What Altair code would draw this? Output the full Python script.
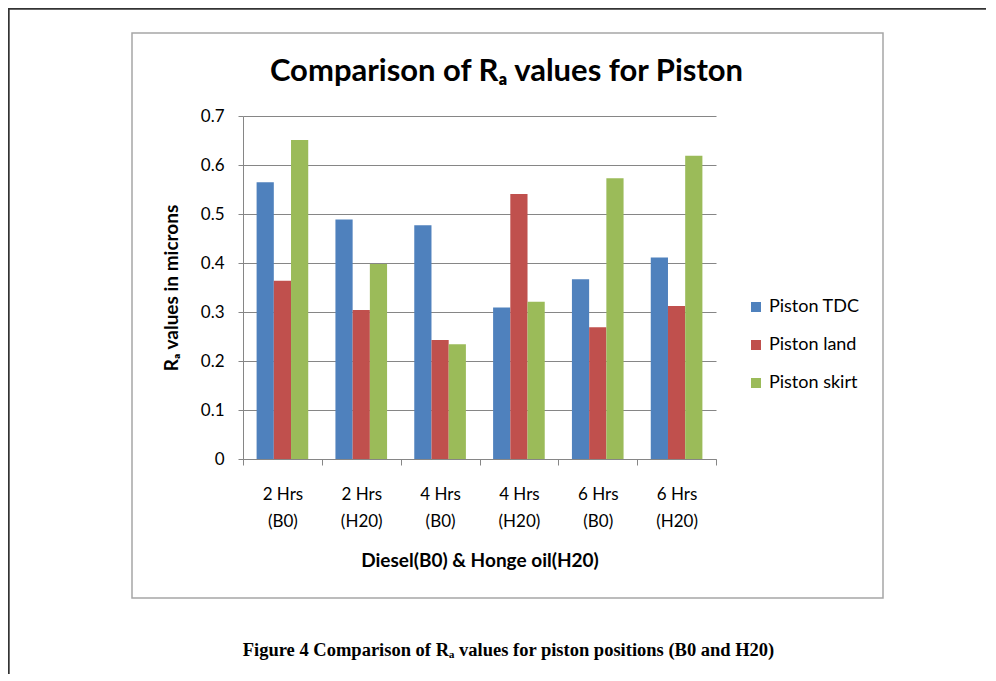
import altair as alt
import pandas as pd

# ---- data ----
categories = ["2 Hrs (B0)", "2 Hrs (H20)", "4 Hrs (B0)", "4 Hrs (H20)", "6 Hrs (B0)", "6 Hrs (H20)"]
series = ["Piston TDC", "Piston land", "Piston skirt"]
tdc = [0.565, 0.489, 0.477, 0.309, 0.367, 0.411]
land = [0.364, 0.304, 0.243, 0.541, 0.269, 0.312]
skirt = [0.651, 0.398, 0.234, 0.321, 0.573, 0.619]
colors = ["#4F81BD", "#C0504D", "#9BBB59"]
y_ticks = [0, 0.1, 0.2, 0.3, 0.4, 0.5, 0.6, 0.7]

chart_title = "Comparison of R\u2090 values for Piston"
x_title = "Diesel(B0) & Honge oil(H20)"
y_title = "R\u2090 values in microns"
caption = "Figure 4 Comparison of R\u2090 values for piston positions (B0 and H20)"

rows = []
for s, vals in zip(series, [tdc, land, skirt]):
    for c, v in zip(categories, vals):
        rows.append({"cat": c, "series": s, "value": v})
df = pd.DataFrame(rows)
meta = pd.DataFrame({"k": [0]})

W, H = 473, 343
FONT = "Lato"
GRAY = "#868686"

bars = alt.Chart(df).mark_bar().encode(
    x=alt.X(
        "cat:N", sort=categories,
        scale=alt.Scale(paddingInner=0, paddingOuter=0),
        axis=alt.Axis(
            title=x_title, tickBand="extent", labelAngle=0,
            labelExpr="isString(datum.label) && indexof(datum.label, ' (') > 0 ? "
                      "[split(datum.label, ' (')[0], '(' + split(datum.label, ' (')[1]] : ''",
            labelFont=FONT, labelFontSize=17, labelColor="#000", labelLineHeight=27,
            labelBaseline="middle", labelPadding=29, tickSize=6, tickColor=GRAY,
            domainColor=GRAY, titleFont=FONT, titleFontSize=19, titleFontWeight="bold",
            titleColor="#000", titleX=W / 2, titleY=101, titleBaseline="middle",
            titleAlign="center", grid=False,
        ),
    ),
    xOffset=alt.XOffset("series:N", sort=series,
                        scale=alt.Scale(paddingInner=0, paddingOuter=0.79)),
    y=alt.Y(
        "value:Q",
        scale=alt.Scale(domain=[0, 0.7], nice=False),
        axis=alt.Axis(
            title=y_title, values=y_ticks,
            labelExpr="datum.value == 0 ? '0' : format(datum.value, '.1f')",
            grid=True, gridColor=GRAY, gridWidth=1, tickSize=5, tickColor=GRAY,
            domainColor=GRAY, labelFont=FONT, labelFontSize=17, labelColor="#000",
            labelPadding=14, titleFont=FONT, titleFontSize=19, titleFontWeight="bold",
            titleColor="#000", titleX=-72, titleY=H / 2, titleAngle=270,
            titleBaseline="middle", titleAlign="center",
        ),
    ),
    color=alt.Color(
        "series:N", sort=series,
        scale=alt.Scale(domain=series, range=colors),
        legend=alt.Legend(
            title=None, orient="none", legendX=504, legendY=182, symbolType="square",
            symbolSize=100, symbolStrokeWidth=0, labelFont=FONT, labelFontSize=18,
            labelColor="#000", rowPadding=20, labelOffset=4, padding=0,
        ),
    ),
)

page_top = alt.Chart(meta).mark_rect(color="#333333").encode(
    x=alt.value(-235), x2=alt.value(W + 300), y=alt.value(-108), y2=alt.value(-106.3))
page_left = alt.Chart(meta).mark_rect(color="#333333").encode(
    x=alt.value(-235), x2=alt.value(-233.3), y=alt.value(-108), y2=alt.value(H + 230))
border = alt.Chart(meta).mark_rect(fillOpacity=0, stroke="#A6A6A6", strokeWidth=1.5).encode(
    x=alt.value(-111), x2=alt.value(640), y=alt.value(-83), y2=alt.value(482))

title = alt.Chart(meta).mark_text(
    text=chart_title, font=FONT, fontSize=31, fontWeight="bold", align="center",
    baseline="alphabetic", color="#000").encode(x=alt.value(263.5), y=alt.value(-35.5))

cap = alt.Chart(meta).mark_text(
    text=caption, font="Liberation Serif", fontSize=18.5, fontWeight="bold", align="center",
    baseline="middle", color="#000").encode(x=alt.value(265.5), y=alt.value(534))

chart = alt.layer(page_top, page_left, border, bars, title, cap).properties(
    width=W, height=H, autosize="none",
    padding={"left": 235, "top": 108, "right": 270, "bottom": 215},
    background="white",
).configure_view(strokeWidth=0)

chart.save("out.html", embed_options={"renderer": "svg", "actions": False})
